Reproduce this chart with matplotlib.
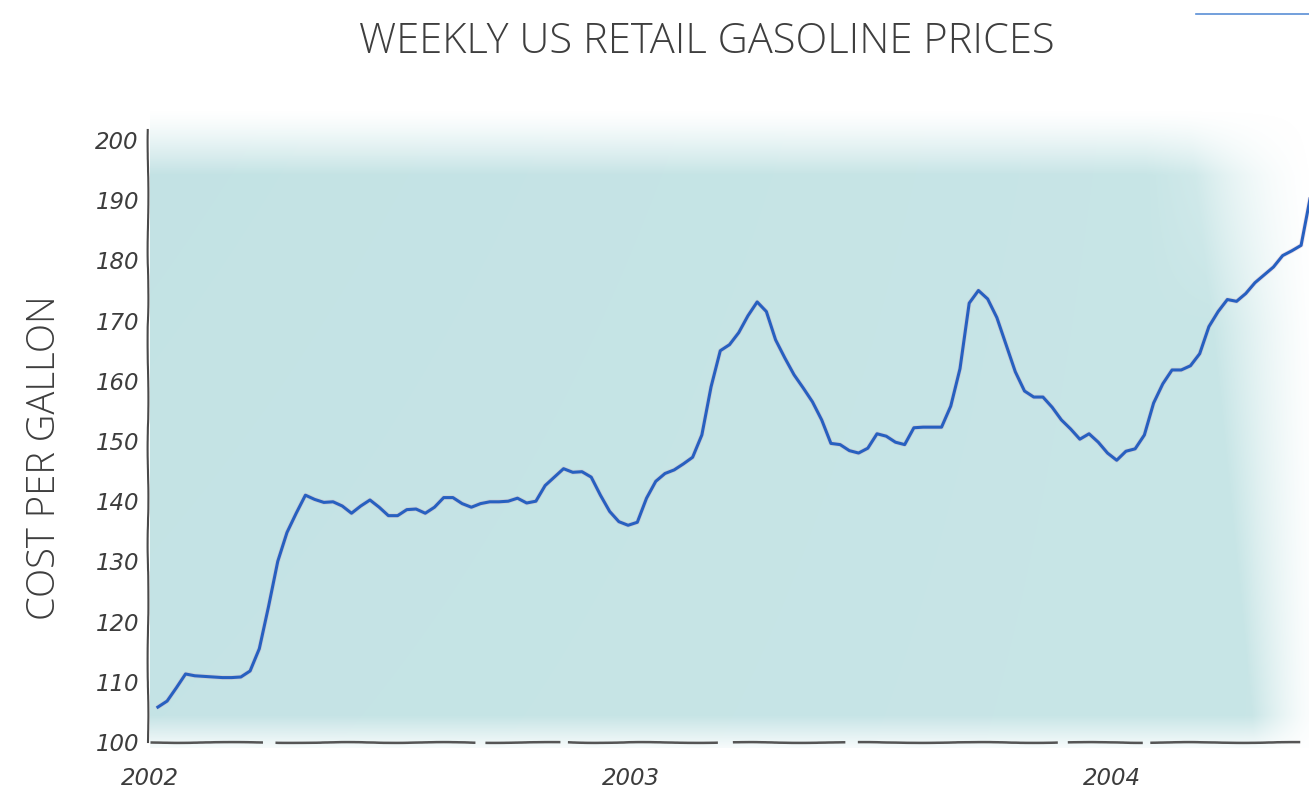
import numpy as np
import pandas as pd
import matplotlib
matplotlib.use("Agg")
import matplotlib.pyplot as plt
from matplotlib.lines import Line2D

# ---------------- data (cents per gallon, weekly) -------------
start_date = "2002-01-07"
prices = [
    105.8, 106.8, 109.0, 111.3, 111.0, 110.9, 110.8, 110.7, 110.7, 110.8,
    111.8, 115.5, 122.5, 130.0, 134.8, 138.0, 141.0, 140.3, 139.8, 139.9,
    139.2, 138.0, 139.2, 140.2, 139.0, 137.6, 137.6, 138.6, 138.7, 138.0,
    139.0, 140.6, 140.6, 139.6, 139.0, 139.6, 139.9, 139.9, 140.0, 140.5,
    139.7, 140.0, 142.6, 144.0, 145.4, 144.8, 144.9, 144.0, 141.0, 138.3,
    136.6, 136.0, 136.5, 140.5, 143.3, 144.6, 145.2, 146.2, 147.3, 151.0,
    159.0, 165.0, 166.0, 168.0, 170.8, 173.1, 171.5, 166.8, 163.8, 161.0,
    158.8, 156.5, 153.5, 149.6, 149.4, 148.4, 148.0, 148.8, 151.2, 150.8,
    149.8, 149.4, 152.2, 152.3, 152.3, 152.3, 155.8, 162.0, 172.9, 175.0,
    173.6, 170.5, 166.0, 161.5, 158.3, 157.3, 157.3, 155.6, 153.5, 152.0,
    150.3, 151.2, 149.8, 148.0, 146.8, 148.3, 148.7, 151.0, 156.3, 159.5,
    161.8, 161.8, 162.5, 164.5, 169.0, 171.5, 173.5, 173.2, 174.5, 176.3,
    177.6, 178.9, 180.8, 181.6, 182.5, 190.5,
]
y_ticks = [100, 110, 120, 130, 140, 150, 160, 170, 180, 190, 200]
x_tick_years = ["2002", "2003", "2004"]
title_text = "WEEKLY US RETAIL GASOLINE PRICES"
y_label_text = "COST PER GALLON"

dates = pd.date_range(start_date, periods=len(prices), freq="7D")

# ---------------- figure -------------------------------------------------------------
W, H = 1309, 792
fig = plt.figure(figsize=(W / 100, H / 100), dpi=100)
fig.patch.set_facecolor("white")

def fx(px):
    return px / W

def fy(py):
    return 1 - py / H

# watercolor-like background behind the plot
bg_ax = fig.add_axes([fx(150), fy(748), fx(1309) - fx(150), fy(100) - fy(748)])
bg_ax.set_axis_off()
h, w = 650, 1160
yy, xx = np.mgrid[0:h, 0:w]
ty = yy / (h - 1)          # 0 top -> 1 bottom
tx = xx / (w - 1)          # 0 left -> 1 right
base = np.array([0.785, 0.900, 0.905])
dark = np.array([0.750, 0.880, 0.888])
mix = (0.55 * (1 - tx) * (1 - ty) + 0.35 * ty * (1 - tx))[..., None]
rgb = base * (1 - mix) + dark * mix
alpha_top = np.clip((ty - 0.015) / 0.10, 0, 1) ** 1.3
alpha_bot = np.clip((1 - ty) / 0.05, 0, 1) * 0.85 + 0.15
edge = 0.895 + 0.055 * ty          # where the right fade begins
rf = np.clip((1 - tx) / (1 - edge), 0, 1)
alpha_right = rf ** 1.3
# extra fade in the top-right corner
corner = np.clip((tx - 0.86) / 0.14, 0, 1) * np.clip((0.35 - ty) / 0.35, 0, 1)
alpha = alpha_top * alpha_bot * np.clip(alpha_right + 0.10 * ty, 0, 1) * (1 - 0.8 * corner)
rgba = np.dstack([rgb, alpha])
bg_ax.imshow(rgba, aspect="auto", extent=[0, 1, 0, 1], interpolation="bilinear")

# main axes
ax = fig.add_axes([fx(150), fy(742), fx(1309) - fx(150), fy(140) - fy(742)])
ax.set_facecolor("none")

ax.plot(dates, prices, color="#d08aa6", lw=3.4, alpha=0.22, solid_capstyle="round",
        solid_joinstyle="round", zorder=3)
ax.plot(dates, prices, color="#2760c0", lw=2.2, solid_joinstyle="round", zorder=4)

ax.set_ylim(100, 200)
ax.set_xlim(pd.Timestamp("2002-01-01"), pd.Timestamp("2004-05-30"))

ax.set_yticks(y_ticks)
ax.set_yticklabels([str(v) for v in y_ticks])
ax.set_xticks([pd.Timestamp(f"{y}-01-01") for y in x_tick_years])
ax.set_xticklabels(x_tick_years)
ax.tick_params(axis="both", length=0, labelcolor="#3c3c3c", labelsize=16.5)
ax.tick_params(axis="y", pad=8)
ax.tick_params(axis="x", pad=18)
for lab in ax.get_yticklabels() + ax.get_xticklabels():
    lab.set_fontstyle("italic")

for s in ["top", "right", "left", "bottom"]:
    ax.spines[s].set_visible(False)

# hand-drawn looking axes lines
yl = Line2D([fx(148), fx(148)], [fy(742), fy(130)], transform=fig.transFigure,
            color="#4a4a4a", lw=1.5, zorder=5)
yl.set_sketch_params(scale=0.4, length=150, randomness=4)
fig.add_artist(yl)
xl = Line2D([fx(150), fx(1309)], [fy(742), fy(742)], transform=fig.transFigure,
            color="#555555", lw=1.8, zorder=5,
            linestyle=(0, (45, 5, 80, 4, 30, 3, 60, 6)))
xl.set_sketch_params(scale=0.4, length=150, randomness=4)
fig.add_artist(xl)

# titles
fig.text(fx(707), fy(42), title_text, ha="center", va="center",
         fontsize=30, color="#3e3e3e", family=["Open Sans", "DejaVu Sans"],
         fontweight="light")
fig.text(fx(45), fy(458), y_label_text, ha="center", va="center", rotation=90,
         fontsize=27.5, color="#3e3e3e", family=["Open Sans", "DejaVu Sans"],
         fontweight="light")

# small blue rule at the top right
fig.add_artist(Line2D([fx(1196), fx(1309)], [fy(14), fy(14)], transform=fig.transFigure,
                      color="#5a8fd6", lw=1.2))

fig.savefig("out.png", dpi=100, facecolor="white")
